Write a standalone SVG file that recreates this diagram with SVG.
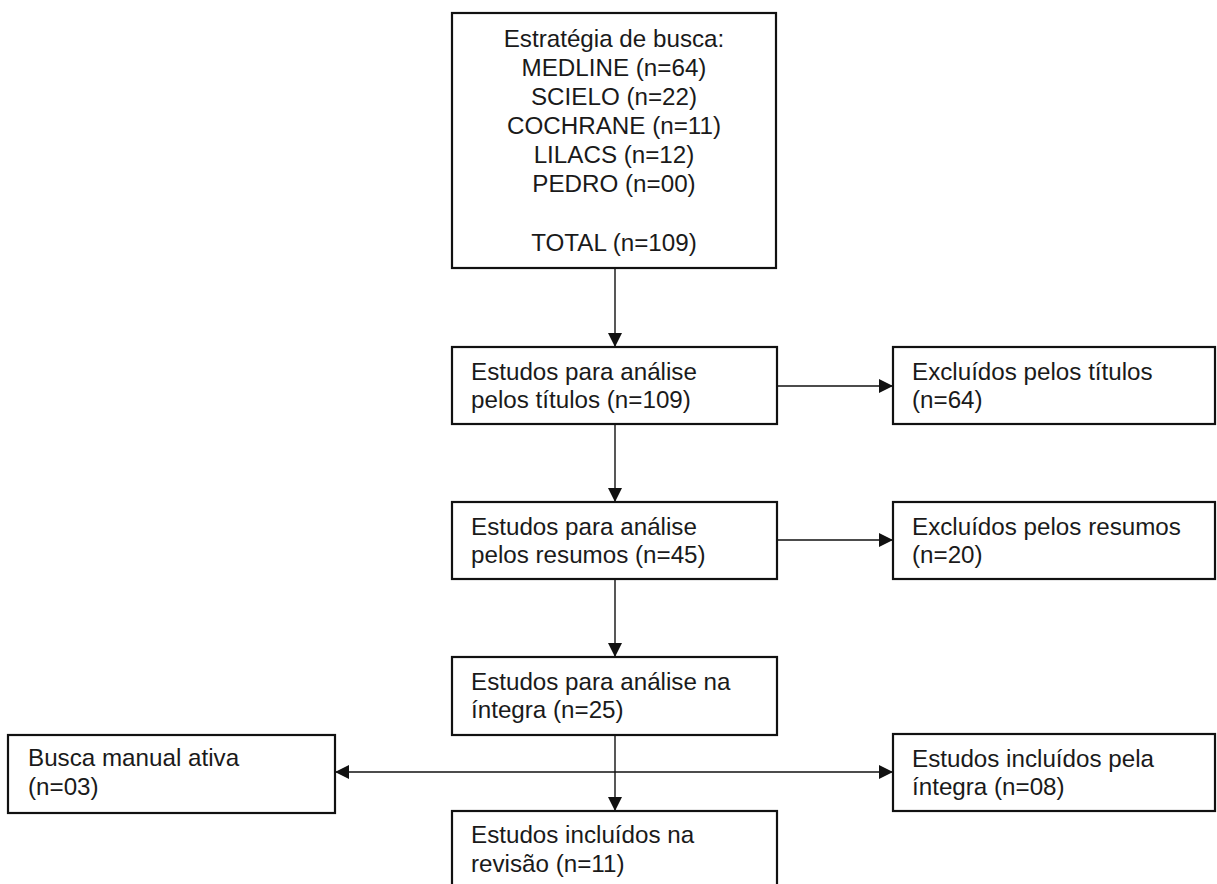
<svg xmlns="http://www.w3.org/2000/svg" width="1217" height="884" viewBox="0 0 1217 884">
<style>
.box{fill:#fff;stroke:#111;stroke-width:2.2}
.t{font-family:"Liberation Sans",Arial,sans-serif;font-size:24.2px;fill:#1a1a1a}
.c{text-anchor:middle}
.ln{stroke:#111;stroke-width:1.4;fill:none}
</style>
<defs>
<marker id="ah" markerUnits="userSpaceOnUse" markerWidth="16" markerHeight="16" refX="14" refY="7.5" orient="auto">
<path d="M0,0.5 L14,7.5 L0,14.5 z" fill="#111"/>
</marker>
</defs>
<rect width="1217" height="884" fill="#fff"/>
<g id="connectors">
<line class="ln" x1="615" y1="268" x2="615" y2="347" marker-end="url(#ah)"/>
<line class="ln" x1="615" y1="424" x2="615" y2="502" marker-end="url(#ah)"/>
<line class="ln" x1="615" y1="579" x2="615" y2="657" marker-end="url(#ah)"/>
<line class="ln" x1="615" y1="735" x2="615" y2="811" marker-end="url(#ah)"/>
<line class="ln" x1="777" y1="386" x2="893" y2="386" marker-end="url(#ah)"/>
<line class="ln" x1="777" y1="540" x2="893" y2="540" marker-end="url(#ah)"/>
<line class="ln" x1="615" y1="772" x2="335" y2="772" marker-end="url(#ah)"/>
<line class="ln" x1="615" y1="772" x2="893" y2="772" marker-end="url(#ah)"/>
</g>
<g id="busca">
<rect class="box" x="452" y="13" width="324" height="255"/>
<text class="t c" x="614" y="47">Estratégia de busca:</text>
<text class="t c" x="614" y="76">MEDLINE (n=64)</text>
<text class="t c" x="614" y="105">SCIELO (n=22)</text>
<text class="t c" x="614" y="134">COCHRANE (n=11)</text>
<text class="t c" x="614" y="163">LILACS (n=12)</text>
<text class="t c" x="614" y="192">PEDRO (n=00)</text>
<text class="t c" x="614" y="251">TOTAL (n=109)</text>
</g>
<g id="titulos">
<rect class="box" x="452" y="347" width="325" height="77"/>
<text class="t" x="471" y="380">Estudos para análise</text>
<text class="t" x="471" y="408">pelos títulos (n=109)</text>
</g>
<g id="excl-titulos">
<rect class="box" x="893" y="347" width="322" height="77"/>
<text class="t" x="912" y="380">Excluídos pelos títulos</text>
<text class="t" x="912" y="408">(n=64)</text>
</g>
<g id="resumos">
<rect class="box" x="452" y="502" width="325" height="77"/>
<text class="t" x="471" y="535">Estudos para análise</text>
<text class="t" x="471" y="563">pelos resumos (n=45)</text>
</g>
<g id="excl-resumos">
<rect class="box" x="893" y="502" width="322" height="77"/>
<text class="t" x="912" y="535">Excluídos pelos resumos</text>
<text class="t" x="912" y="563">(n=20)</text>
</g>
<g id="integra">
<rect class="box" x="452" y="657" width="325" height="78"/>
<text class="t" x="471" y="690">Estudos para análise na</text>
<text class="t" x="471" y="718">íntegra (n=25)</text>
</g>
<g id="manual">
<rect class="box" x="8" y="735" width="327" height="78"/>
<text class="t" x="28" y="766">Busca manual ativa</text>
<text class="t" x="28" y="795">(n=03)</text>
</g>
<g id="incl-integra">
<rect class="box" x="893" y="734" width="322" height="77"/>
<text class="t" x="912" y="767">Estudos incluídos pela</text>
<text class="t" x="912" y="795">íntegra (n=08)</text>
</g>
<g id="revisao">
<rect class="box" x="452" y="811" width="325" height="90"/>
<text class="t" x="471" y="843">Estudos incluídos na</text>
<text class="t" x="471" y="872">revisão (n=11)</text>
</g>
</svg>
